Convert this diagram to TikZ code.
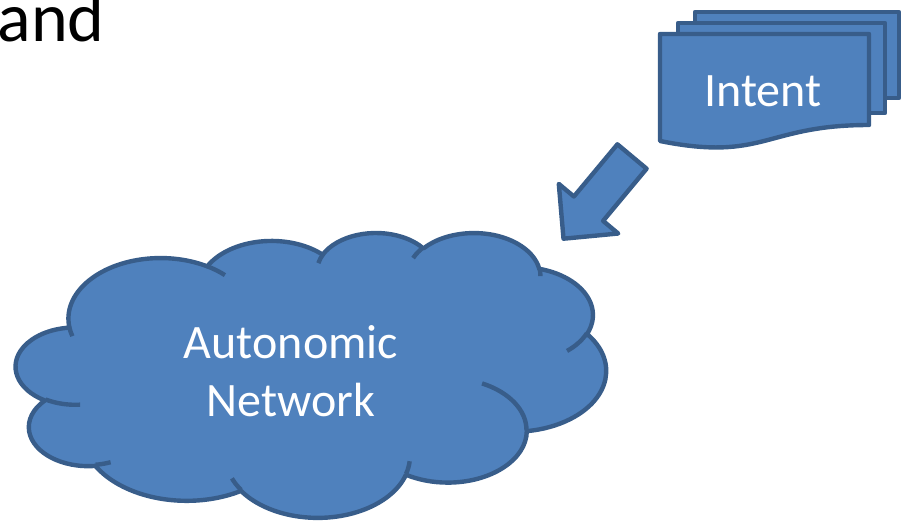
\documentclass[tikz,border=0pt]{standalone}
\usepackage{fontspec}
\setmainfont{Carlito}
\definecolor{shapefill}{HTML}{4F81BD}
\definecolor{shapeline}{HTML}{385D8A}
% cloud placement (box of the OOXML cloud, in px)
\newcommand\cloudX{16}
\newcommand\cloudY{232}
\newcommand\cloudSx{0.013657}
\newcommand\cloudSy{0.006597}
\newcommand\cloudSxT{0.13657}
\newcommand\cloudSyT{0.06597}
% move to a point given in OOXML units / 10
\newcommand\oomove[2]{%
  \pgfmathsetmacro\oomx{\cloudX+#1*\cloudSxT}%
  \pgfmathsetmacro\oomy{-(\cloudY+#2*\cloudSyT)}%
  \pgfpathmoveto{\pgfpoint{\oomx pt}{\oomy pt}}}
% OOXML arcTo: wR hR stAng swAng (degrees)
\newcommand\ooarc[4]{%
  \pgfmathsetmacro\ooa{atan2(#1*sin(#3),#2*cos(#3))}%
  \pgfmathsetmacro\oob{atan2(#1*sin(#3+#4),#2*cos(#3+#4))}%
  \pgfmathsetmacro\ood{\oob-\ooa}%
  \pgfmathsetmacro\ood{\ood<0 ? \ood+360 : \ood}%
  \pgfmathsetmacro\oos{-\ooa}%
  \pgfmathsetmacro\ooe{-\ooa-\ood}%
  \pgfmathsetmacro\oorx{#1*\cloudSx}%
  \pgfmathsetmacro\oory{#2*\cloudSy}%
  \pgfpatharc{\oos}{\ooe}{\oorx pt and \oory pt}}
\tikzset{
  shapestyle/.style={fill=shapefill, draw=shapeline, line width=4.4pt, line join=round},
  whitetext/.style={text=white, font=\fontsize{48}{58}\selectfont, inner sep=0pt, align=center},
}
\begin{document}
\begin{tikzpicture}[x=1pt, y=-1pt]
\useasboundingbox (0,0) rectangle (903,520);
% title fragment
\node[anchor=base east, inner sep=0pt, font=\fontsize{70}{74}\selectfont] (title) at (105,41.5) {and};
% cloud
\begin{scope}
\pgfsetfillcolor{shapefill}
\pgfsetstrokecolor{shapeline}
\pgfsetlinewidth{4.4pt}
\pgfsetroundjoin
\oomove{390.0}{1437.0}
\ooarc{6753}{9190}{-190.4875}{123.7805}
\ooarc{5333}{7267}{-144.1024}{89.9452}
\ooarc{4365}{5945}{-145.8079}{99.7230}
\ooarc{4857}{6595}{-130.9861}{117.2417}
\ooarc{5333}{7273}{-78.7089}{109.0269}
\ooarc{6775}{9220}{-46.2673}{130.2690}
\ooarc{5785}{7867}{0.6250}{114.0333}
\ooarc{6752}{9215}{22.4516}{115.1726}
\ooarc{7720}{10543}{66.2426}{75.7110}
\ooarc{4360}{5918}{-274.9421}{146.7356}
\ooarc{4345}{5945}{-246.8285}{152.5189}
\pgfpathclose
\pgfusepath{fill,stroke}
\oomove{469.3}{2617.7}\ooarc{4360}{5918}{86.7420}{26.4295}
\oomove{692.8}{3489.9}\ooarc{4345}{5945}{73.6105}{11.4475}
\oomove{1647.8}{3909.0}\ooarc{6752}{9215}{137.6242}{14.0811}
\oomove{2882.7}{3475.1}\ooarc{6752}{9215}{6.4533}{15.9984}
\oomove{3412.9}{2295.4}\ooarc{5785}{7867}{-70.2924}{70.9174}
\oomove{4179.8}{1535.4}\ooarc{5333}{7273}{30.3180}{27.7515}
\oomove{3832.4}{542.6}\ooarc{4857}{6595}{-13.7443}{14.8589}
\oomove{2907.8}{395.2}\ooarc{4857}{6595}{-149.1815}{18.1954}
\oomove{2214.1}{472.0}\ooarc{4365}{5945}{-163.4943}{17.6864}
\oomove{1400.0}{519.2}\ooarc{6753}{9190}{-66.7070}{12.3194}
\oomove{412.7}{1578.9}\ooarc{6753}{9190}{157.6544}{11.8582}
\pgfusepath{stroke}
\end{scope}
\node[whitetext, anchor=base] (net) at (291,416) {Autonomic\\Network};
% block arrow
\draw[shapestyle] (617.4,144.3) -- (573.9,196.5) -- (558.8,183.9) -- (563.5,238.7)
  -- (618.2,233.5) -- (603.1,220.9) -- (646.6,168.7) -- cycle;
% multi-document
\draw[shapestyle] (695,12) rectangle (899,98);
\draw[shapestyle] (678,23) rectangle (885,113);
\draw[shapestyle] (660,34) -- (869,34) -- (869,125)
  .. controls (764.5,125) and (764.5,162) .. (660,141) -- cycle;
\node[whitetext, anchor=base] (intent) at (763,106) {Intent};
\end{tikzpicture}
\end{document}
